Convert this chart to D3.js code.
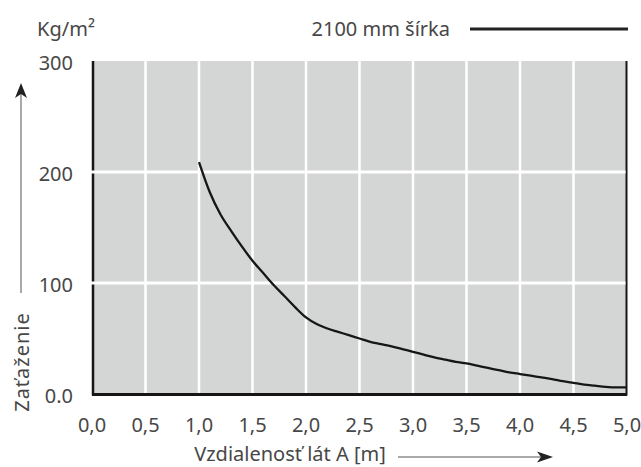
<!DOCTYPE html>
<html lang="sk">
<head>
<meta charset="UTF-8">
<title>Zaťaženie</title>
<script src="https://d3js.org/d3.v7.min.js"></script>
<style>
  body { margin: 0; background: #fff; }
  text { font-family: "Noto Sans", sans-serif; fill: #474747; }
</style>
</head>
<body>
<div id="graf"></div>
<script>
// hodnoty odčítané z grafu
const vzdialenost = [1.0, 1.1, 1.2, 1.3, 1.4, 1.5, 1.6, 1.7, 1.8, 1.9, 2.0,
  2.1, 2.2, 2.3, 2.4, 2.5, 2.6, 2.7, 2.8, 2.9, 3.0,
  3.1, 3.2, 3.3, 3.4, 3.5, 3.6, 3.7, 3.8, 3.9, 4.0,
  4.1, 4.2, 4.3, 4.4, 4.5, 4.6, 4.7, 4.8, 4.9, 5.0];
const zatazenie = [209, 182, 162, 147, 133, 120, 109, 98, 88, 78, 69,
  63, 59, 56, 53, 50, 47, 45, 43, 40.5, 38,
  35.5, 33, 31, 29, 27.5, 25.5, 23.5, 21.5, 19.5, 18,
  16.5, 15, 13.5, 11.5, 10, 8.5, 7.5, 6.5, 6, 6];
const xTicks = [0, 0.5, 1, 1.5, 2, 2.5, 3, 3.5, 4, 4.5, 5];
const yTicks = [0, 100, 200, 300];
const yTickLabels = ["0.0", "100", "200", "300"];
const legenda = "2100 mm šírka";

const width = 641, height = 467;
const mLeft = 92, mRight = 627, mTop = 61, mBottom = 394;
const fs = 20;

const svg = d3.select("#graf").append("svg")
  .attr("width", width)
  .attr("height", height);

const x = d3.scaleLinear().domain([0, 5]).range([mLeft, mRight]);
const y = d3.scaleLinear().domain([0, 300]).range([mBottom, mTop]);

// sivá plocha
svg.append("rect")
  .attr("x", mLeft).attr("y", mTop)
  .attr("width", mRight - mLeft).attr("height", mBottom - mTop)
  .attr("fill", "#d4d5d5");

// rám
svg.append("line").attr("x1", mLeft + 1).attr("x2", mLeft + 1)
  .attr("y1", mTop).attr("y2", mBottom + 1.5)
  .attr("stroke", "#161616").attr("stroke-width", 2.5);
svg.append("line").attr("x1", mRight - 0.5).attr("x2", mRight - 0.5)
  .attr("y1", mTop).attr("y2", mBottom + 1.5)
  .attr("stroke", "#161616").attr("stroke-width", 2);

// mriežka
svg.append("g").selectAll("line")
  .data(xTicks.slice(1, -1))
  .join("line")
  .attr("x1", d => x(d)).attr("x2", d => x(d))
  .attr("y1", mTop).attr("y2", mBottom)
  .attr("stroke", "#fff").attr("stroke-width", 2.5);
svg.append("g").selectAll("line")
  .data(yTicks.slice(1, -1))
  .join("line")
  .attr("x1", mLeft - 1).attr("x2", mRight - 1.5)
  .attr("y1", d => y(d)).attr("y2", d => y(d))
  .attr("stroke", "#fff").attr("stroke-width", 3);

svg.append("line").attr("x1", mLeft).attr("x2", mRight)
  .attr("y1", mBottom + 0.5).attr("y2", mBottom + 0.5)
  .attr("stroke", "#161616").attr("stroke-width", 3);

// krivka
const line = d3.line()
  .x((d, i) => x(vzdialenost[i]))
  .y(d => y(d))
  .curve(d3.curveMonotoneX);
svg.append("path")
  .datum(zatazenie)
  .attr("d", line)
  .attr("fill", "none")
  .attr("stroke", "#161616")
  .attr("stroke-width", 2.3);

// popisy osí
const fmtX = d => d3.format(".1f")(d).replace(".", ",");
svg.append("g").selectAll("text")
  .data(xTicks)
  .join("text")
  .attr("x", d => x(d)).attr("y", 424)
  .attr("text-anchor", "middle").attr("dominant-baseline", "central")
  .attr("font-size", fs)
  .text(fmtX);

svg.append("g").selectAll("text")
  .data(yTicks)
  .join("text")
  .attr("x", 73).attr("y", d => y(d) + 1)
  .attr("text-anchor", "end").attr("dominant-baseline", "central")
  .attr("font-size", fs)
  .text((d, i) => yTickLabels[i]);

svg.append("text")
  .attr("x", 66).attr("y", 28)
  .attr("text-anchor", "middle").attr("dominant-baseline", "central")
  .attr("font-size", fs)
  .text("Kg/m²");

svg.append("text")
  .attr("transform", "translate(21.5,362) rotate(-90)")
  .attr("text-anchor", "middle").attr("dominant-baseline", "central")
  .attr("font-size", fs)
  .attr("letter-spacing", 1)
  .text("Zaťaženie");

svg.append("text")
  .attr("x", 290).attr("y", 453)
  .attr("text-anchor", "middle").attr("dominant-baseline", "central")
  .attr("font-size", fs)
  .text("Vzdialenosť lát A [m]");

// šípky
svg.append("line").attr("x1", 21).attr("x2", 21).attr("y1", 293).attr("y2", 92)
  .attr("stroke", "#8c8c8c").attr("stroke-width", 1.5);
svg.append("path").attr("d", "M21,83 L27,98 L21,94 L15,98 Z").attr("fill", "#222");

svg.append("line").attr("x1", 398).attr("x2", 544).attr("y1", 457).attr("y2", 457)
  .attr("stroke", "#8c8c8c").attr("stroke-width", 1.5);
svg.append("path").attr("d", "M553,457 L537,451.5 L541,457 L537,462.5 Z").attr("fill", "#222");

// legenda
svg.append("text")
  .attr("x", 450).attr("y", 28)
  .attr("text-anchor", "end").attr("dominant-baseline", "central")
  .attr("font-size", fs)
  .text(legenda);
svg.append("line").attr("x1", 470).attr("x2", 628).attr("y1", 29).attr("y2", 29)
  .attr("stroke", "#222").attr("stroke-width", 3);
</script>
</body>
</html>
